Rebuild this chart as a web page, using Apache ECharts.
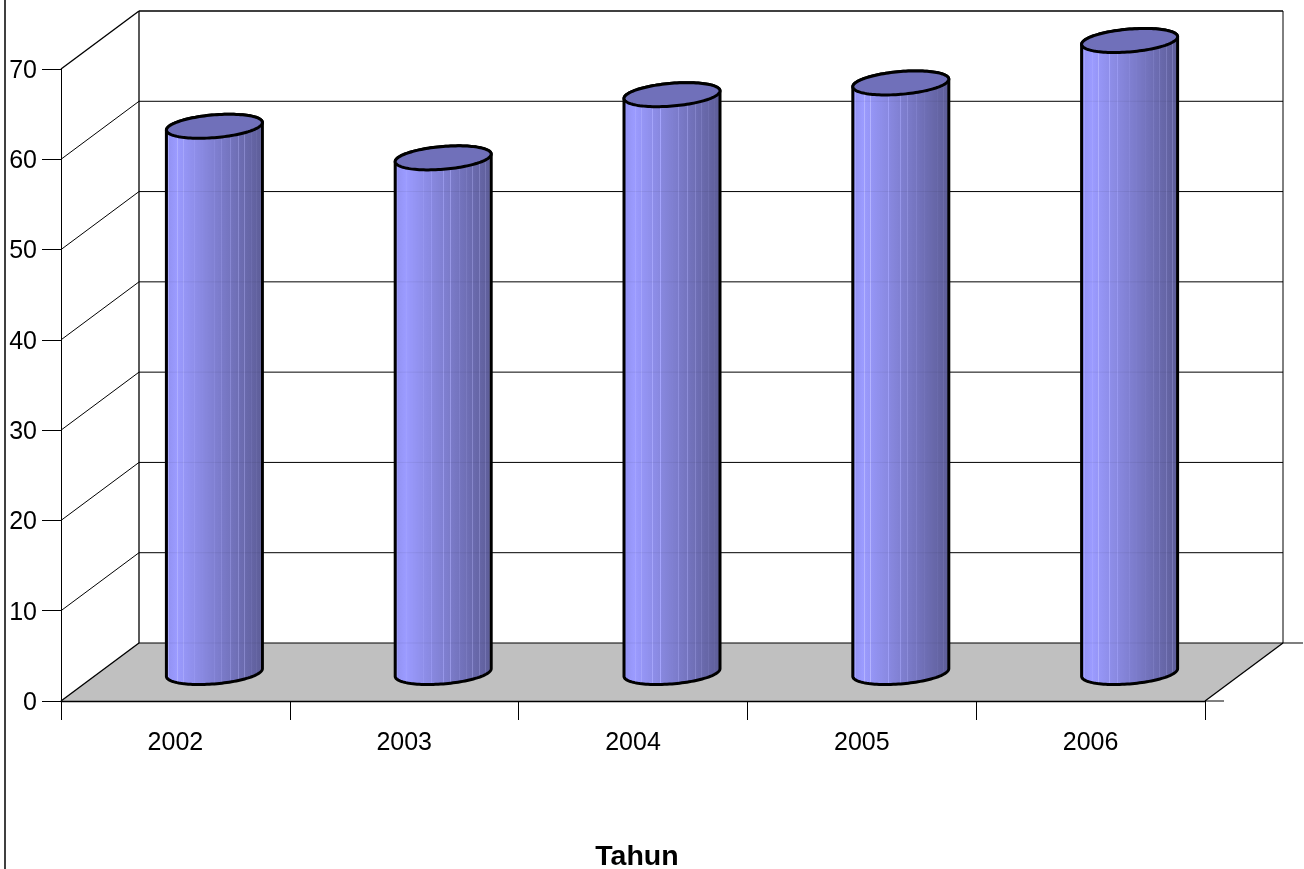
<!DOCTYPE html>
<html><head><meta charset="utf-8">
<style>html,body{margin:0;padding:0;background:#fff}#c{width:1304px;height:869px}</style>
<script src="https://cdn.jsdelivr.net/npm/echarts@6/dist/echarts.min.js"></script>
</head><body><div id="c"></div>
<script>
var years = ['2002','2003','2004','2005','2006'];
var values = [60.5, 57, 64, 65.3, 70];
var yTicks = [0,10,20,30,40,50,60,70];
var DX = 78, DY = -58;
var stripes = [0.04,0.13,0.19,0.3,0.38,0.5,0.57,0.66,0.74,0.8,0.87,0.93,0.97];

function shade(t){
  var c0=[142,142,238], c1=[155,155,255], c2=[92,92,150];
  return t<0.12 ? c0.map(function(v,i){return v+(c1[i]-v)*t/0.12;})
                : c1.map(function(v,i){return v+(c2[i]-v)*(t-0.12)/0.88;});
}
function stops(){
  var s=[];
  for(var i=0;i<=100;i++){
    var t=i/100, col=shade(t);
    s.push({offset:t,color:'rgb('+col.map(Math.round).join(',')+')'});
  }
  stripes.forEach(function(p){
    var col=shade(p).map(function(v){return Math.round(Math.min(255,v+30));});
    var c='rgb('+col.join(',')+')', b='rgb('+shade(p).map(Math.round).join(',')+')';
    s.push({offset:p-0.005,color:b},{offset:p-0.004,color:c},{offset:p+0.004,color:c},{offset:p+0.005,color:b});
  });
  s.sort(function(a,b){return a.offset-b.offset;});
  return s;
}
var bodyFill={type:'linear',x:0,y:0,x2:1,y2:0,colorStops:stops()};

function line(x1,y1,x2,y2,w,col){
  return {type:'line',shape:{x1:x1,y1:y1,x2:x2,y2:y2},style:{stroke:col||'#000',lineWidth:w||1},silent:true};
}
function renderWall(params,api){
  var v=api.value(0), p=api.coord([0,v]);
  var gridX0=params.coordSys.x, gridX1=gridX0+params.coordSys.width, y=p[1];
  var kids=[];
  if(v===0){
    var top=api.coord([0,70])[1];
    kids.push({type:'polygon',shape:{points:[[gridX0,y],[gridX0+DX,y+DY],[gridX1+DX,y+DY],[gridX1,y]]},style:{fill:'#c0c0c0'},silent:true});
    kids.push(line(gridX0+DX,y+DY,gridX0+DX,top+DY,1.3));
    kids.push(line(gridX1+DX,y+DY,gridX1+DX,top+DY));
    kids.push(line(gridX1,y,gridX1+DX,y+DY,1.3));
    kids.push(line(gridX0+DX,y+DY,gridX1+DX+20,y+DY,1.2));
    kids.push(line(gridX1,y,gridX1+19,y));
  } else {
    kids.push(line(gridX0+DX,y+DY,gridX1+DX,y+DY,v===70?1.5:1));
  }
  kids.push(line(gridX0,y,gridX0+DX,y+DY,v===0||v===70?1.4:1));
  return {type:'group',children:kids};
}
function renderBar(params,api){
  var i=api.value(0), v=api.value(1);
  var cx=api.coord([i,0])[0]+DX/2, base=api.coord([i,0])[1]+DY/2+0.5, top=api.coord([i,v])[1]+DY/2+0.5;
  var a=48, s=3.8, b=11.4, N=60, body=[], ell=[], k, t, kids=[];
  for(k=0;k<=N;k++){ t=Math.PI*k/N; body.push([cx+a*Math.cos(t), base-s*Math.cos(t)+b*Math.sin(t)]); }
  for(k=N;k>=0;k--){ t=Math.PI*k/N; body.push([cx+a*Math.cos(t), top-s*Math.cos(t)-b*Math.sin(t)]); }
  for(k=0;k<2*N;k++){ t=Math.PI*k/N; ell.push([cx+a*Math.cos(t), top-s*Math.cos(t)+b*Math.sin(t)]); }
  kids.push({type:'polygon',shape:{points:body},style:{fill:bodyFill,stroke:'#000',lineWidth:3}});
  yTicks.forEach(function(tv){
    var gy=api.coord([0,tv])[1]+DY;
    if(gy>top+12) kids.push(line(cx-a+1.5,gy,cx+a-1.5,gy,1,'rgba(0,0,0,0.06)'));
  });
  kids.push({type:'polygon',shape:{points:ell},style:{fill:'#7070ba',stroke:'#000',lineWidth:3}});
  return {type:'group',children:kids};
}
var textStyle={color:'#000',fontFamily:'"Liberation Sans",Arial,sans-serif',fontSize:25};
var chart=echarts.init(document.getElementById('c'),null,{renderer:'canvas'});
chart.setOption({
  animation:false,
  backgroundColor:'#fff',
  grid:{left:61,right:99,top:69,bottom:168,containLabel:false,outerBoundsMode:'none'},
  xAxis:{type:'category',data:years,z:5,
    axisLine:{lineStyle:{color:'#000',width:1.3}},
    axisTick:{show:true,alignWithLabel:false,length:19,lineStyle:{color:'#000',width:1}},
    axisLabel:Object.assign({margin:30,interval:0},textStyle),
    splitLine:{show:false},
    name:'Tahun',nameLocation:'middle',nameGap:142,
    nameTextStyle:{color:'#000',fontFamily:'"Liberation Sans",Arial,sans-serif',fontSize:28.5,fontWeight:'bold',padding:[0,0,0,8]}},
  yAxis:{type:'value',min:0,max:70,interval:10,z:5,
    axisLine:{show:true,lineStyle:{color:'#000',width:1}},
    axisTick:{show:true,length:19,lineStyle:{color:'#000',width:1}},
    axisLabel:Object.assign({margin:24,verticalAlign:'top',lineHeight:4},textStyle),
    splitLine:{show:false}},
  graphic:[{type:'line',shape:{x1:5,y1:0,x2:5,y2:869},style:{stroke:'#000',lineWidth:1.5},silent:true}],
  series:[
    {type:'custom',z:1,clip:false,silent:true,coordinateSystem:'cartesian2d',renderItem:renderWall,
     encode:{x:1,y:0},data:yTicks.map(function(t){return [t,0];})},
    {type:'custom',z:2,clip:false,silent:true,coordinateSystem:'cartesian2d',renderItem:renderBar,
     encode:{x:0,y:1},data:values.map(function(v,i){return [i,v];})}
  ]
});
</script></body></html>
